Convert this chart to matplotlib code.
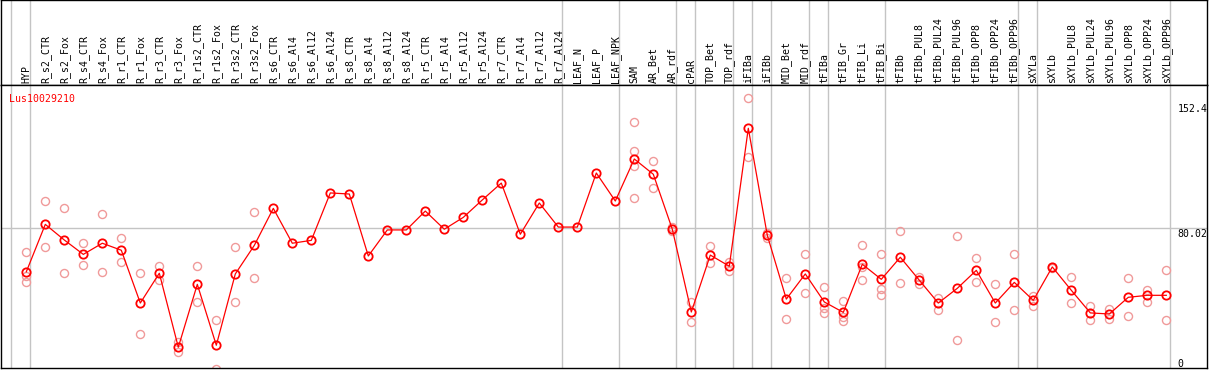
import matplotlib
matplotlib.use("Agg")
import matplotlib.pyplot as plt

categories = ["HYP", "R_s2_CTR", "R_s2_Fox", "R_s4_CTR", "R_s4_Fox", "R_r1_CTR", "R_r1_Fox",
              "R_r3_CTR", "R_r3_Fox", "R_r1s2_CTR", "R_r1s2_Fox", "R_r3s2_CTR", "R_r3s2_Fox",
              "R_s6_CTR", "R_s6_Al4", "R_s6_Al12", "R_s6_Al24", "R_s8_CTR", "R_s8_Al4",
              "R_s8_Al12", "R_s8_Al24", "R_r5_CTR", "R_r5_Al4", "R_r5_Al12", "R_r5_Al24",
              "R_r7_CTR", "R_r7_Al4", "R_r7_Al12", "R_r7_Al24", "LEAF_N", "LEAF_P", "LEAF_NPK",
              "SAM", "AR_Bet", "AR_rdf", "cPAR", "TOP_Bet", "TOP_rdf", "iFIBa", "iFIBb",
              "MID_Bet", "MID_rdf", "tFIBa", "tFIB_Gr", "tFIB_Li", "tFIB_Bi", "tFIBb",
              "tFIBb_PUL8", "tFIBb_PUL24", "tFIBb_PUL96", "tFIBb_OPP8", "tFIBb_OPP24",
              "tFIBb_OPP96", "sXYLa", "sXYLb", "sXYLb_PUL8", "sXYLb_PUL24", "sXYLb_PUL96",
              "sXYLb_OPP8", "sXYLb_OPP24", "sXYLb_OPP96"]

means = [55.8, 82.2, 73.5, 65.5, 71.7, 67.8, 38.4, 55.0, 13.8, 48.8, 14.9, 54.6, 70.5,
         91.1, 71.7, 73.3, 99.7, 99.1, 64.6, 79.1, 79.1, 89.6, 79.5, 86.1, 95.8, 105.2,
         76.7, 94.1, 80.7, 80.7, 110.8, 95.2, 118.6, 110.1, 79.5, 33.4, 65.1, 58.9, 135.7,
         76.1, 40.6, 54.6, 39.0, 33.2, 60.0, 51.6, 63.9, 51.1, 38.4, 46.6, 56.6, 38.4, 49.9,
         39.9, 58.5, 45.5, 32.9, 32.3, 41.6, 42.7, 42.7]

replicates = [[67.0, 53.5, 50.1], [95.2, 69.6], [91.1, 55.0], [71.7, 59.4], [87.8, 55.5],
              [74.4, 61.1], [55.0, 21.0], [59.0, 51.2], [16.9, 11.0], [59.0, 38.8],
              [28.8, 1.5], [69.4, 38.8], [88.9, 52.2],
              [], [], [], [], [], [], [], [], [], [], [], [], [], [], [], [], [], [], [],
              [139.2, 123.1, 114.9, 96.7], [117.5, 102.3], [80.9, 78.7], [39.1, 28.0],
              [70.2, 60.5], [61.4, 56.2], [152.4, 119.5], [77.2, 74.4], [52.2, 29.5],
              [65.5, 43.8], [47.2, 35.5, 32.7], [39.5, 30.8, 28.6], [70.5, 58.3, 51.1],
              [65.5, 46.4, 42.9], [78.5, 49.4], [53.1, 49.0], [41.4, 34.5], [75.6, 17.7],
              [63.3, 49.9], [48.8, 27.8], [65.9, 34.4], [42.5, 36.6], [57.7], [52.7, 38.3],
              [36.7, 28.8], [35.1, 29.5], [52.2, 31.0], [45.8, 39.1], [56.6, 28.8]]

group_ends = [-1, 0, 28, 31, 34, 35, 37, 38, 39, 41, 42, 45, 52, 53, 60]
gene_title = "Lus10029210"
ytick_labels = ["152.4", "80.02", "0"]
grid_value = 80.02

W, H = 1209, 370
fig = plt.figure(figsize=(W / 100, H / 100), dpi=100)
mono = "DejaVu Sans Mono"
fs = 7.1

xlim = (-1.332, 62.142)
axh = fig.add_axes([1 / W, 1 - 85 / H, 1206 / W, 85 / H])
ax = fig.add_axes([1 / W, 2 / H, 1206 / W, 283 / H])

for a in (axh, ax):
    a.set_xlim(*xlim)
    a.set_xticks([])
    a.set_yticks([])
    for s in a.spines.values():
        s.set_color("black")
        s.set_linewidth(1.0)
    for g in group_ends:
        a.axvline(g + 0.2, color="#c4c4c4", lw=1.0, zorder=0)

axh.set_ylim(0, 1)
for i, c in enumerate(categories):
    axh.text(i, 0.022, c, rotation=90, ha="center", va="bottom",
             fontsize=fs, family=mono, color="black")

ax.set_ylim(2.23, 159.8)
ax.axhline(grid_value, color="#c4c4c4", lw=1.0, zorder=0)

for i, reps in enumerate(replicates):
    if reps:
        ax.plot([i] * len(reps), reps, linestyle="none", marker="o", markersize=5.8,
                markerfacecolor="none", markeredgecolor="#f09a9a", markeredgewidth=1.0,
                zorder=2)

x = list(range(len(categories)))
ax.plot(x, means, color="#ff0000", lw=0.9, zorder=3)
ax.plot(x, means, linestyle="none", marker="o", markersize=6.0, markerfacecolor="none",
        markeredgecolor="#ff0000", markeredgewidth=1.3, zorder=4)

ax.text(0.0069, 0.967, gene_title, transform=ax.transAxes, ha="left", va="top",
        fontsize=fs, family=mono, color="#ff0000")

label_tops_px = [104.3, 229.3, 358.7]
for lab, top in zip(ytick_labels, label_tops_px):
    ax.text(0.9755, (368 - top) / 283, lab, transform=ax.transAxes, ha="left", va="top",
            fontsize=fs, family=mono, color="black")

fig.savefig("out.png", dpi=100)
